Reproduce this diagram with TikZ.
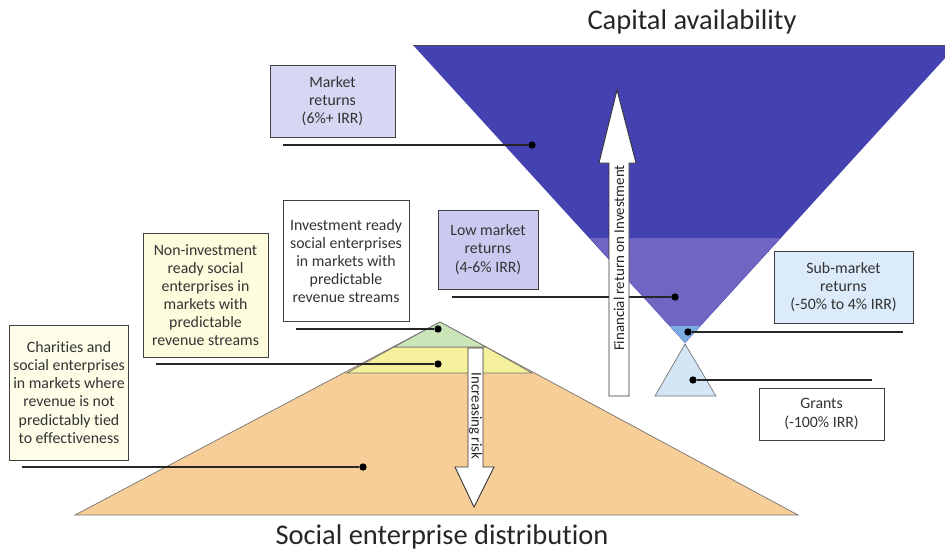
\documentclass[tikz,border=0pt]{standalone}
\usepackage{fontspec}
\setmainfont{Carlito}[Ligatures=NoCommon]
\usetikzlibrary{positioning,calc}
\definecolor{capdark}{RGB}{68,66,176}
\definecolor{capmid}{RGB}{110,102,194}
\definecolor{caplight}{RGB}{122,172,226}
\definecolor{grantfill}{RGB}{212,229,246}
\definecolor{segreen}{RGB}{202,230,184}
\definecolor{seyellow}{RGB}{244,240,156}
\definecolor{seorange}{RGB}{248,206,152}
\definecolor{mktfill}{RGB}{214,215,243}
\definecolor{lowfill}{RGB}{202,202,240}
\definecolor{subfill}{RGB}{220,235,249}
\definecolor{paleyel}{RGB}{253,253,222}
\definecolor{paleyel2}{RGB}{253,253,232}
\tikzset{
  lblbox/.style={draw=black!75,line width=0.55pt,align=center,text=black!80,
    font=\fontsize{9}{10.3}\selectfont,inner sep=2pt},
  tag/.style={circle,fill=black,inner sep=0pt,minimum size=4.2pt},
  leader/.style={line width=0.6pt,black!85},
  band/.style={draw=black!55,line width=0.4pt},
  bigarrow/.style={fill=white,draw=black!80,line width=0.5pt},
  title/.style={font=\fontsize{16.2}{19}\selectfont,text=black!85},
  arrowlbl/.style={font=\fontsize{8.5}{9}\selectfont,text=black!85},
}

\begin{document}
\begin{tikzpicture}[x=0.02cm,y=-0.02cm]
  \useasboundingbox (0,0) rectangle (945,552);
  % capital funnel
  \fill[capdark] (413,45) -- (957,45) -- (685,343) -- cycle;
  \fill[capmid] (590,238) -- (780,238) -- (685,343) -- cycle;
  \fill[caplight] (670,326) -- (700,326) -- (685,343) -- cycle;
  \draw[black!70,line width=0.5pt] (413,45) -- (945,45);
  \draw[band,fill=grantfill] (685,344) -- (716,396) -- (655,396) -- cycle;
  % social enterprise pyramid
  \draw[band,fill=seorange] (440,322) -- (798,515) -- (75,515) -- cycle;
  \draw[band,fill=seyellow] (394,347) -- (486,347) -- (532,373) -- (347,373) -- cycle;
  \draw[band,fill=segreen] (440,322) -- (486,347) -- (394,347) -- cycle;

  \node[tag] (mktdot) at (532,145) {};
  \node[tag] (lowdot) at (675,297) {};
  \node[tag] (subdot) at (688,332) {};
  \node[tag] (grdot) at (693,380) {};
  \node[tag] (invdot) at (438,329) {};
  \node[tag] (nondot) at (438,364) {};
  \node[tag] (chdot) at (363,467) {};
  \coordinate (mktend) at (283,145);
  \coordinate (lowend) at (452,297);
  \coordinate (subend) at (903,332);
  \coordinate (grend) at (872,380);
  \coordinate (invend) at (296,329);
  \coordinate (nonend) at (156,364);
  \coordinate (chend) at (22,467);
  \foreach \d/\e in {mktdot/mktend,lowdot/lowend,subdot/subend,grdot/grend,
      invdot/invend,nondot/nonend,chdot/chend}
    \draw[leader] (\d) -- (\e);

  % return and risk arrows
  \draw[bigarrow] (609,396) -- (609,163) -- (599,163) -- (617,90) -- (636,163)
    -- (629,163) -- (629,396) -- cycle;
  \node[arrowlbl,rotate=90] (retlbl) at (619,258) {Financial return on Investment};
  \draw[bigarrow] (468,348) -- (468,467) -- (455,467) -- (474,507) -- (494,467)
    -- (483,467) -- (483,348) -- cycle;
  \node[arrowlbl,rotate=-90] (risklbl) at (475.5,416) {Increasing risk};

  \node[lblbox,fill=mktfill,minimum width=2.5cm,minimum height=1.44cm] (mkt)
    at (332.5,101) {Market\\returns\\(6\%+ IRR)};
  \node[lblbox,fill=lowfill,minimum width=2cm,minimum height=1.58cm] (low)
    at (488,249.5) {Low market\\returns\\(4-6\% IRR)};
  \node[lblbox,fill=subfill,minimum width=2.78cm,minimum height=1.44cm] (sub)
    at (843.5,287) {Sub-market\\returns\\(-50\% to 4\% IRR)};
  \node[lblbox,fill=white,minimum width=2.5cm,minimum height=1.04cm] (grants)
    at (821.5,414) {Grants\\(-100\% IRR)};
  \node[lblbox,fill=white,minimum width=2.52cm,minimum height=2.42cm,anchor=north] (inv)
    at (346,200) {Investment ready\\social enterprises\\in markets with\\predictable\\revenue streams};
  \node[lblbox,fill=paleyel,minimum width=2.5cm,minimum height=2.48cm] (noninv)
    at (205.5,295) {Non-investment\\ready social\\enterprises in\\markets with\\predictable\\revenue streams};
  \node[lblbox,fill=paleyel2,minimum width=2.38cm,minimum height=2.7cm] (char)
    at (69,392.5) {Charities and\\social enterprises\\in markets where\\revenue is not\\predictably tied\\to effectiveness};

  \node[title] (captitle) at (692,22) {Capital availability};
  \node[title] (setitle) at (442,537) {Social enterprise distribution};
\end{tikzpicture}
\end{document}
